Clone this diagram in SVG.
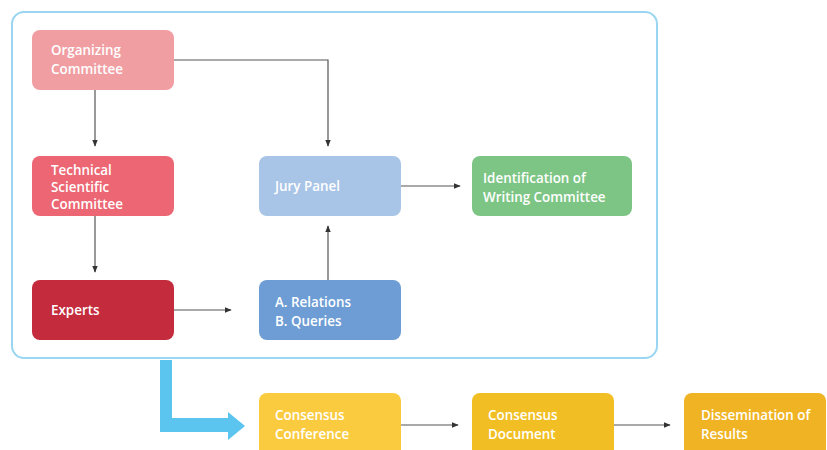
<svg xmlns="http://www.w3.org/2000/svg" width="827" height="450" viewBox="0 0 827 450">
<defs>
<style>
.box{stroke:none}
.t{font-family:"Open Sans",Lato,sans-serif;font-size:13.4px;font-weight:600;fill:#ffffff}
.c{fill:none;stroke:#555;stroke-width:1.2}
</style>
<marker id="ah" viewBox="0 0 10 10" refX="9" refY="5" markerWidth="6" markerHeight="6" orient="auto"><path d="M0,1 L10,5 L0,9 z" fill="#333"/></marker>
</defs>
<rect width="827" height="450" fill="#ffffff"/>
<rect x="12" y="12" width="645" height="346" rx="12" fill="none" stroke="#9ad6f2" stroke-width="2"/>
<g id="connectors">
<path class="c" d="M95,90 V146" marker-end="url(#ah)"/>
<path class="c" d="M174,60 H328 V146" marker-end="url(#ah)"/>
<path class="c" d="M95,216 V272" marker-end="url(#ah)"/>
<path class="c" d="M174,310 H231" marker-end="url(#ah)"/>
<path class="c" d="M328,280 V226" marker-end="url(#ah)"/>
<path class="c" d="M401,186 H460" marker-end="url(#ah)"/>
<path class="c" d="M401,425 H458" marker-end="url(#ah)"/>
<path class="c" d="M614,425 H670" marker-end="url(#ah)"/>
<path d="M160,360 H172 V418 H228 V412 L245,426 L228,440 V432 H160 Z" fill="#5bc4ef"/>
</g>
<g id="organizing"><rect class="box" x="32" y="30" width="142" height="60" rx="8" fill="#f19ea3"/><text class="t" x="51" y="55">Organizing</text><text class="t" x="51" y="74">Committee</text></g>
<g id="technical"><rect class="box" x="32" y="156" width="142" height="60" rx="8" fill="#ec6673"/><text class="t" x="51" y="175">Technical</text><text class="t" x="51" y="192">Scientific</text><text class="t" x="51" y="209">Committee</text></g>
<g id="experts"><rect class="box" x="32" y="280" width="142" height="60" rx="8" fill="#c42c3e"/><text class="t" x="51" y="315">Experts</text></g>
<g id="jury"><rect class="box" x="259" y="156" width="142" height="60" rx="8" fill="#a8c4e6"/><text class="t" x="275" y="191">Jury Panel</text></g>
<g id="relations"><rect class="box" x="259" y="280" width="142" height="60" rx="8" fill="#6d9dd4"/><text class="t" x="275" y="307">A. Relations</text><text class="t" x="275" y="326">B. Queries</text></g>
<g id="identification"><rect class="box" x="472" y="156" width="160" height="60" rx="8" fill="#7dc585"/><text class="t" x="483" y="183">Identification of</text><text class="t" x="483" y="202">Writing Committee</text></g>
<g id="conference"><rect class="box" x="259" y="393" width="142" height="64" rx="8" fill="#fbcb3f"/><text class="t" x="275" y="420">Consensus</text><text class="t" x="275" y="439">Conference</text></g>
<g id="document"><rect class="box" x="472" y="393" width="142" height="64" rx="8" fill="#f1bf24"/><text class="t" x="488" y="420">Consensus</text><text class="t" x="488" y="439">Document</text></g>
<g id="dissemination"><rect class="box" x="684" y="393" width="142" height="64" rx="8" fill="#f0b323"/><text class="t" x="701" y="420">Dissemination of</text><text class="t" x="701" y="439">Results</text></g>
</svg>
